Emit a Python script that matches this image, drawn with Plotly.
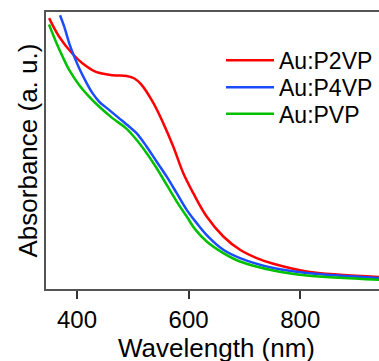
import plotly.graph_objects as go

# Wavelength (nm) and absorbance (arbitrary units)
wl_p2vp = [350.0, 368.3, 392.3, 410.2, 434.1, 464.0, 489.0, 503.0, 515.0, 536.7, 554.7,
           572.6, 590.5, 608.4, 632.4, 662.2, 692.1, 722.0, 751.8, 811.6, 871.3, 945.0]
abs_p2vp = [271.5, 252.6, 235.5, 226.0, 217.6, 214.3, 213.5, 211.0, 205.0, 186.5, 166.0,
            142.6, 116.0, 96.0, 72.6, 52.6, 39.3, 31.0, 25.3, 17.6, 14.3, 12.0]

wl_p4vp = [369.5, 377.2, 386.2, 395.2, 404.1, 416.1, 428.1, 440.0, 457.9, 475.8, 493.7,
           507.0, 524.9, 542.8, 560.8, 578.7, 596.6, 614.5, 632.4, 662.2, 692.1, 751.8,
           811.6, 945.0]
abs_p4vp = [274.3, 262.6, 246.0, 232.6, 221.0, 207.6, 196.0, 187.6, 179.3, 171.0, 162.6,
            156.0, 142.6, 127.6, 112.6, 96.0, 79.3, 66.0, 54.0, 39.3, 31.0, 21.0,
            16.0, 11.0]

wl_pvp = [349.8, 362.4, 374.4, 386.2, 404.1, 422.0, 440.0, 464.0, 488.0, 507.0, 524.9,
          542.8, 560.8, 578.7, 596.6, 611.5, 632.4, 662.2, 692.1, 751.8, 811.6, 945.0]
abs_pvp = [265.0, 247.6, 232.6, 219.3, 204.3, 192.6, 182.6, 171.0, 161.0, 149.3, 136.0,
           121.0, 104.3, 87.6, 72.6, 60.0, 47.6, 36.0, 27.6, 18.6, 13.6, 9.3]

series_names = ["Au:P2VP", "Au:P4VP", "Au:PVP"]
series_colors = ["#ff0000", "#1a4dff", "#00c000"]
x_ticks = [400, 600, 800]
x_title = "Wavelength (nm)"
y_title = "Absorbance (a. u.)"

FONT = "Liberation Sans, Arial, sans-serif"

# plot-area geometry (pixels)
L, T, B, W, H = 46, 12, 72, 379, 361
PW, PH = W - L, H - T - B

legend_ids = ["legend", "legend2", "legend3"]
legend_rows_px = [60.3, 87.3, 113.7]

fig = go.Figure()
for name, xs, ys, col, lid in zip(series_names, [wl_p2vp, wl_p4vp, wl_pvp],
                                  [abs_p2vp, abs_p4vp, abs_pvp], series_colors, legend_ids):
    fig.add_trace(go.Scatter(x=xs, y=ys, mode="lines", name=name, legend=lid,
                             line=dict(color=col, width=2.5, shape="spline", smoothing=1.0)))

legend_common = dict(xanchor="left", yanchor="middle", bgcolor="rgba(0,0,0,0)",
                     font=dict(size=23, family=FONT, color="black"), itemwidth=48)
layout_legends = {}
for lid, ypx in zip(legend_ids, legend_rows_px):
    layout_legends[lid] = dict(legend_common, x=(234 - 13 - L) / PW, y=(H - B - ypx) / PH)

fig.update_layout(
    width=W, height=H,
    margin=dict(l=L, r=0, t=T, b=B, autoexpand=False),
    paper_bgcolor="white", plot_bgcolor="white",
    font=dict(family=FONT, color="black"),
    showlegend=True,
    xaxis=dict(range=[344.4, 941.2], tickvals=x_ticks, ticks="outside", ticklen=8,
               tickwidth=2, tickcolor="#333", showline=True, linecolor="#555", linewidth=2,
               mirror=True, showgrid=False, zeroline=False, automargin=False,
               tickfont=dict(size=24, family=FONT)),
    yaxis=dict(range=[0, 277.6], showticklabels=False, ticks="", showline=True,
               linecolor="#555", linewidth=2, mirror=False, showgrid=False, zeroline=False,
               automargin=False),
    annotations=[
        dict(text=x_title, xref="paper", yref="paper", x=(216.5 - L) / PW,
             y=-(348 - (H - B)) / PH, xanchor="center", yanchor="middle", showarrow=False,
             font=dict(size=26, family=FONT, color="black")),
        dict(text=y_title, xref="paper", yref="paper", x=(27 - L) / PW, y=0.5,
             xanchor="center", yanchor="middle", textangle=-90, showarrow=False,
             font=dict(size=26, family=FONT, color="black")),
    ],
    **layout_legends,
)

fig.write_html("out.html", config={"displayModeBar": False},
               post_script="document.body.style.margin='0';document.body.style.overflow='hidden';")
